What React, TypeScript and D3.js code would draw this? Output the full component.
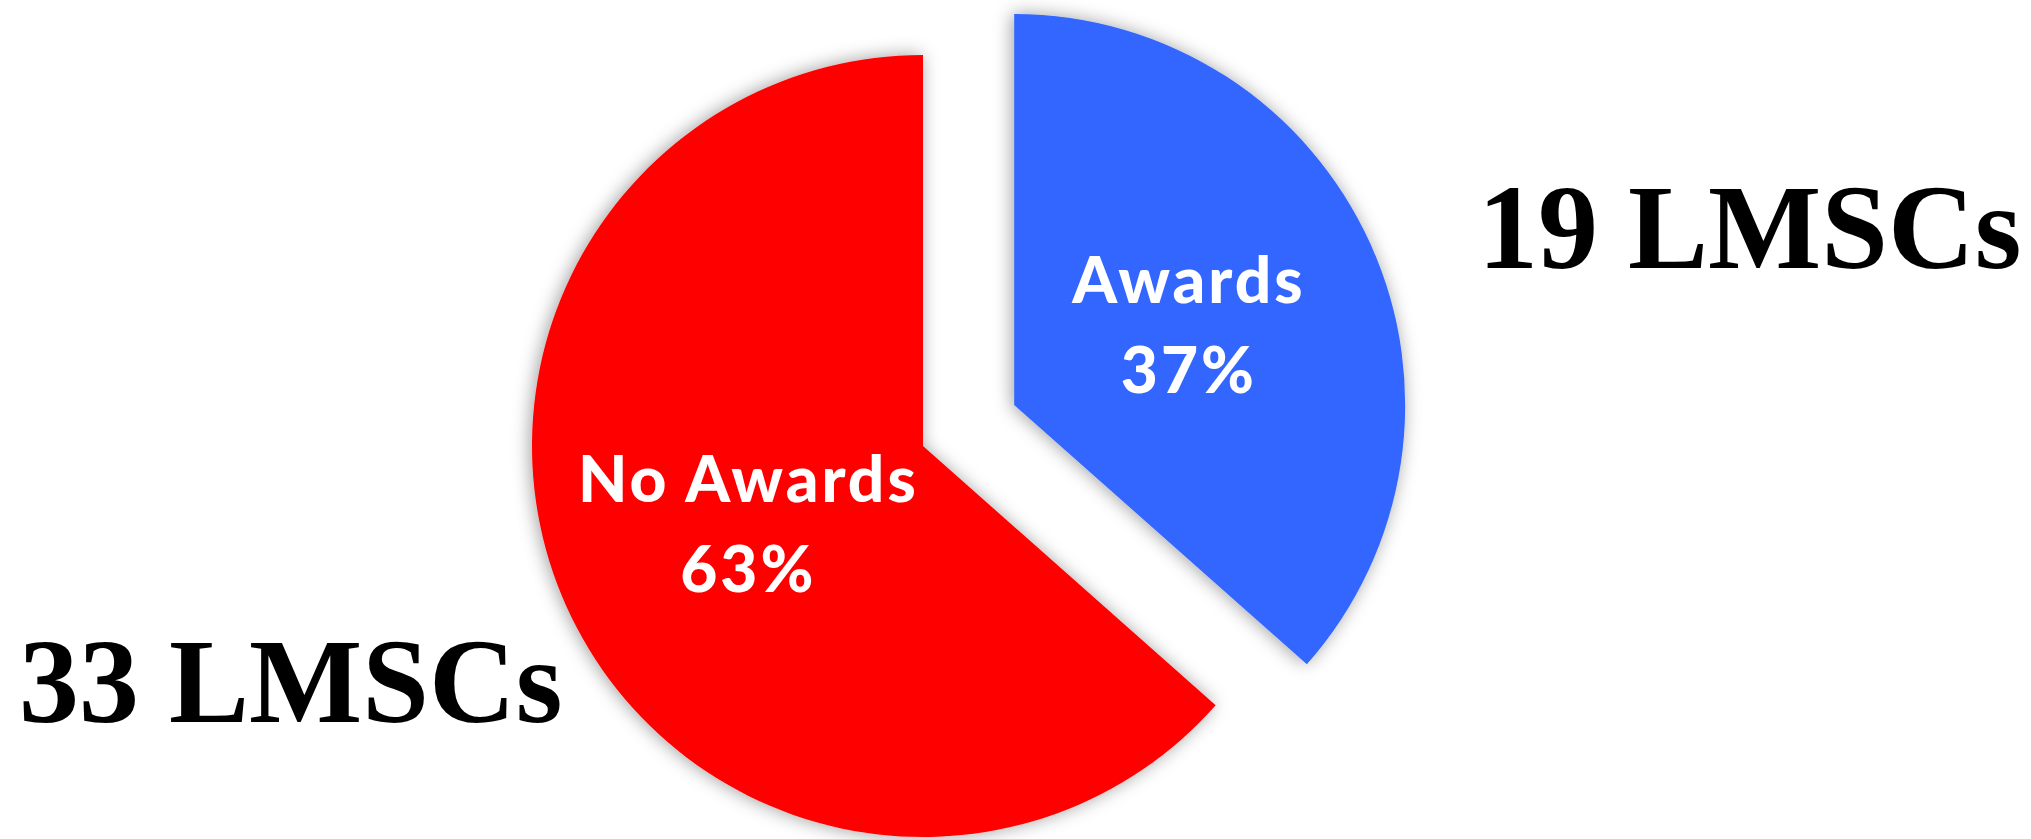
import { useEffect, useRef } from "react";
import * as d3 from "d3";

// slice order matches the reference: Awards first, clockwise from 12 o'clock
const categories = ["Awards", "No Awards"];
const counts = [19, 33];
const percentLabels = ["37%", "63%"];
const countLabels = ["19 LMSCs", "33 LMSCs"];
const sliceColors = ["#3366FF", "#FF0000"];

export default function App() {
  const svgRef = useRef<SVGSVGElement>(null);

  useEffect(() => {
    if (!svgRef.current) return;

    const svg = d3.select(svgRef.current);
    svg.selectAll("*").remove();

    const width = 2031;
    const height = 839;
    const cx = 923;
    const cy = 446;
    const radius = 391;
    const explode = 100;

    // soft shadow around the slices
    const defs = svg.append("defs");
    const filter = defs
      .append("filter")
      .attr("id", "pieShadow")
      .attr("x", "-20%")
      .attr("y", "-20%")
      .attr("width", "140%")
      .attr("height", "140%");
    filter
      .append("feDropShadow")
      .attr("dx", -2)
      .attr("dy", 0)
      .attr("stdDeviation", 9)
      .attr("flood-color", "#000000")
      .attr("flood-opacity", 0.38);

    const data = categories.map((c, i) => ({ name: c, value: counts[i], index: i }));

    const pie = d3
      .pie<{ name: string; value: number; index: number }>()
      .sort(null)
      .value((d) => d.value);

    const arcs = pie(data);

    const arc = d3
      .arc<d3.PieArcDatum<{ name: string; value: number; index: number }>>()
      .innerRadius(0)
      .outerRadius(radius);

    const labelArc = d3
      .arc<d3.PieArcDatum<{ name: string; value: number; index: number }>>()
      .innerRadius(radius * 0.49)
      .outerRadius(radius * 0.49);

    const g = svg.append("g").attr("transform", `translate(${cx},${cy})`);

    arcs.forEach((a) => {
      // only the Awards slice is pulled out
      const mid = (a.startAngle + a.endAngle) / 2;
      const off = a.data.index === 0 ? explode : 0;
      const ox = Math.sin(mid) * off;
      const oy = -Math.cos(mid) * off;

      const slice = g.append("g").attr("transform", `translate(${ox},${oy})`);

      slice
        .append("path")
        .attr("d", arc(a) as string)
        .attr("fill", sliceColors[a.data.index])
        .attr("filter", "url(#pieShadow)");

      const [lx, ly] = labelArc.centroid(a);

      const label = slice
        .append("text")
        .attr("text-anchor", "middle")
        .attr("fill", "#ffffff")
        .attr("font-family", "Lato, 'Open Sans', sans-serif")
        .attr("font-weight", 900)
        .attr("font-size", 64)
        .attr("letter-spacing", 3);

      label.append("tspan").attr("x", lx).attr("y", ly - 23).text(a.data.name);
      label.append("tspan").attr("x", lx).attr("y", ly + 67).text(percentLabels[a.data.index]);
    });

    // count annotations in big serif type
    const countPos = [
      { x: 1478, y: 268 },
      { x: 19, y: 722 },
    ];

    countLabels.forEach((t, i) => {
      svg
        .append("text")
        .attr("x", countPos[i].x)
        .attr("y", countPos[i].y)
        .attr("font-family", "'Liberation Serif', 'Times New Roman', serif")
        .attr("font-weight", 700)
        .attr("font-size", 120)
        .attr("fill", "#000000")
        .text(t);
    });

    svg.attr("width", width).attr("height", height);
  }, []);

  return (
    <svg
      ref={svgRef}
      width={2031}
      height={839}
      style={{ position: "absolute", left: 0, top: 0, display: "block", background: "#ffffff" }}
    />
  );
}
